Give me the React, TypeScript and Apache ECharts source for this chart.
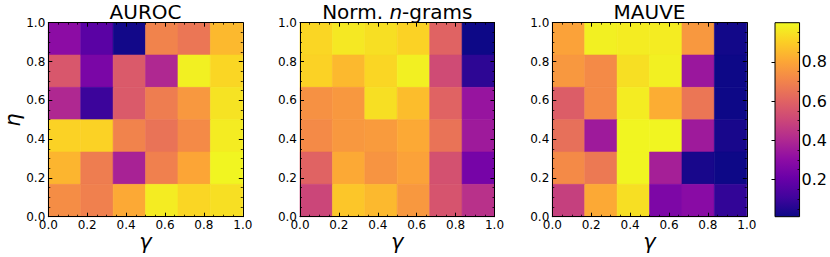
import React, { useEffect, useRef } from "react";
import * as echarts from "echarts";

// Bin edges of the 6x6 grids (gamma along x, eta along y)
const gammaEdges = [0.0, 0.1667, 0.3333, 0.5, 0.6667, 0.8333, 1.0];
const etaEdges = [0.0, 0.1667, 0.3333, 0.5, 0.6667, 0.8333, 1.0];

// Axis tick values
const axisTicks = [0.0, 0.2, 0.4, 0.6, 0.8, 1.0];
const colorbarTicks = [0.2, 0.4, 0.6, 0.8];
const colorbarMinorTicks = [0.05, 0.1, 0.15, 0.25, 0.3, 0.35, 0.45, 0.5, 0.55, 0.65, 0.7, 0.75, 0.85, 0.9, 0.95];
const colorMin = 0.01;
const colorMax = 1.0;

const panelTitles = ["AUROC", "Norm. n-grams", "MAUVE"];

// Rows listed from top (eta ≈ 1) to bottom (eta ≈ 0); columns gamma 0 → 1
const aurocRows = [
  [0.30, 0.17, 0.02, 0.70, 0.66, 0.85],
  [0.56, 0.25, 0.57, 0.40, 0.98, 0.92],
  [0.40, 0.10, 0.57, 0.68, 0.76, 0.95],
  [0.91, 0.91, 0.70, 0.65, 0.72, 0.97],
  [0.84, 0.68, 0.38, 0.69, 0.80, 0.99],
  [0.73, 0.69, 0.81, 0.97, 0.92, 0.94],
];

const ngramRows = [
  [0.92, 0.96, 0.94, 0.91, 0.60, 0.01],
  [0.91, 0.85, 0.92, 0.98, 0.52, 0.07],
  [0.74, 0.76, 0.94, 0.86, 0.60, 0.33],
  [0.72, 0.76, 0.77, 0.81, 0.65, 0.35],
  [0.60, 0.81, 0.75, 0.79, 0.54, 0.24],
  [0.50, 0.88, 0.85, 0.76, 0.55, 0.43],
];

const mauveRows = [
  [0.79, 0.98, 0.97, 0.97, 0.76, 0.02],
  [0.76, 0.72, 0.94, 0.98, 0.34, 0.01],
  [0.58, 0.72, 0.97, 0.82, 0.66, 0.01],
  [0.64, 0.35, 0.99, 0.99, 0.35, 0.03],
  [0.72, 0.67, 0.99, 0.37, 0.03, 0.00],
  [0.48, 0.81, 0.94, 0.26, 0.29, 0.08],
];

const plasma = [
  "#0d0887", "#41049d", "#6a00a8", "#8f0da4", "#b12a90", "#cc4778",
  "#e16462", "#f2844b", "#fca636", "#fcce25", "#f0f921",
];

const FONT = "DejaVu Sans";
const panelLefts = [48.3, 300, 552.3];
const panelWidth = 194.5;
const gridTop = 22.7;
const gridHeight = 194;
const cbLeft = 775;
const cbWidth = 26;

function toCells(rows: number[][]) {
  const out: number[][] = [];
  const n = rows.length;
  rows.forEach((row, r) => {
    const yi = n - 1 - r;
    row.forEach((v, c) => {
      out.push([gammaEdges[c], gammaEdges[c + 1], etaEdges[yi], etaEdges[yi + 1], v]);
    });
  });
  return out;
}

export default function App() {
  const ref = useRef<HTMLDivElement>(null);
  useEffect(() => {
    if (!ref.current) return;
    const chart = echarts.init(ref.current, undefined, { renderer: "svg" });

    const grids: any[] = panelLefts.map((l) => ({ left: l, top: gridTop, width: panelWidth, height: gridHeight }));
    grids.push({ left: cbLeft, top: gridTop, width: cbWidth, height: gridHeight });

    const lineStyle = { color: "#000", width: 1 };
    const baseAxis = (gridIndex: number) => ({
      type: "value",
      gridIndex,
      min: axisTicks[0],
      max: axisTicks[axisTicks.length - 1],
      interval: 0.2,
      z: 10,
      axisLine: { show: true, onZero: false, lineStyle },
      axisTick: { show: true, inside: true, length: 4, lineStyle },
      minorTick: { show: true, splitNumber: 4, length: 2, lineStyle: { color: "#000", width: 0.8 } },
      splitLine: { show: false },
      minorSplitLine: { show: false },
    });
    const labelStyle = (margin: number) => ({
      show: true,
      margin,
      fontSize: 12,
      color: "#000",
      fontFamily: FONT,
      showMinLabel: true,
      showMaxLabel: true,
      formatter: (v: number) => v.toFixed(1),
    });

    const xAxes: any[] = [];
    const yAxes: any[] = [];
    for (let i = 0; i < 3; i++) {
      xAxes.push({ ...baseAxis(i), position: "bottom", axisLabel: labelStyle(2) });
      xAxes.push({ ...baseAxis(i), position: "top", axisLabel: { show: false } });
      yAxes.push({ ...baseAxis(i), position: "left", axisLabel: labelStyle(3) });
      yAxes.push({ ...baseAxis(i), position: "right", axisLabel: { show: false } });
    }
    // colorbar axes
    xAxes.push({ type: "value", gridIndex: 3, min: 0, max: 1, show: false });
    yAxes.push({
      type: "value",
      gridIndex: 3,
      min: colorMin,
      max: colorMax,
      position: "right",
      z: 10,
      axisLine: { show: false },
      axisTick: { show: true, inside: true, length: 3.5, customValues: colorbarTicks, lineStyle },
      axisLabel: {
        show: true,
        margin: 2,
        fontSize: 16,
        color: "#000",
        fontFamily: FONT,
        customValues: colorbarTicks,
        formatter: (v: number) => v.toFixed(1),
      },
      splitLine: { show: false },
    });
    yAxes.push({
      type: "value",
      gridIndex: 3,
      min: colorMin,
      max: colorMax,
      position: "right",
      z: 10,
      axisLine: { show: false },
      axisTick: { show: true, inside: true, length: 2, customValues: colorbarMinorTicks, lineStyle: { color: "#000", width: 0.8 } },
      axisLabel: { show: false },
      splitLine: { show: false },
    });

    const cellRender = (params: any, api: any) => {
      const p0 = api.coord([api.value(0), api.value(3)]);
      const p1 = api.coord([api.value(1), api.value(2)]);
      const color = api.visual("color");
      return {
        type: "rect",
        shape: { x: p0[0], y: p0[1], width: p1[0] - p0[0], height: p1[1] - p0[1] },
        style: { fill: color, stroke: color, lineWidth: 0.6 },
      };
    };

    const datasets = [aurocRows, ngramRows, mauveRows];
    const series: any[] = datasets.map((rows, i) => ({
      type: "custom",
      xAxisIndex: 2 * i,
      yAxisIndex: 2 * i,
      z: 2,
      encode: { x: [0, 1], y: [2, 3] },
      data: toCells(rows),
      renderItem: cellRender,
    }));

    const stops = plasma.map((c, i) => ({ offset: i / (plasma.length - 1), color: c }));
    series.push({
      type: "custom",
      xAxisIndex: 6,
      yAxisIndex: 6,
      z: 2,
      encode: { x: [0, 1], y: [2, 3] },
      data: [[0, 1, colorMin, colorMax]],
      renderItem: (params: any, api: any) => {
        const p0 = api.coord([api.value(0), api.value(3)]);
        const p1 = api.coord([api.value(1), api.value(2)]);
        return {
          type: "rect",
          shape: { x: p0[0], y: p0[1], width: p1[0] - p0[0], height: p1[1] - p0[1] },
          style: {
            fill: new echarts.graphic.LinearGradient(0, 1, 0, 0, stops),
            stroke: "#000",
            lineWidth: 1,
          },
        };
      },
    });

    const graphics: any[] = [];
    panelLefts.forEach((l, i) => {
      const cx = l + panelWidth / 2;
      if (i === 1) {
        graphics.push({
          type: "text",
          x: cx,
          y: 11.5,
          style: {
            text: "{a|Norm. }{b|n}{a|-grams}",
            align: "center",
            verticalAlign: "middle",
            rich: {
              a: { fontSize: 20, fontFamily: FONT, fill: "#000" },
              b: { fontSize: 20, fontFamily: FONT, fontStyle: "italic", fill: "#000" },
            },
          },
        });
      } else {
        graphics.push({
          type: "text",
          x: cx,
          y: 11.5,
          style: { text: panelTitles[i], align: "center", verticalAlign: "middle", fontSize: 20, fontFamily: FONT, fill: "#000" },
        });
      }
      graphics.push({
        type: "text",
        x: cx,
        y: 242,
        style: { text: "γ", align: "center", verticalAlign: "middle", fontSize: 21, fontFamily: FONT, fontStyle: "italic", fill: "#000" },
      });
    });
    graphics.push({
      type: "text",
      x: 13,
      y: 120,
      rotation: Math.PI / 2,
      style: { text: "η", align: "center", verticalAlign: "middle", fontSize: 21, fontFamily: FONT, fontStyle: "italic", fill: "#000" },
    });

    chart.setOption({
      animation: false,
      backgroundColor: "#fff",
      grid: grids,
      xAxis: xAxes,
      yAxis: yAxes,
      visualMap: {
        type: "continuous",
        show: false,
        min: colorMin,
        max: colorMax,
        dimension: 4,
        seriesIndex: [0, 1, 2],
        inRange: { color: plasma },
      },
      series,
      graphic: graphics,
    });
    return () => chart.dispose();
  }, []);
  return <div ref={ref} style={{ position: "absolute", left: 0, top: 0, width: 830, height: 257 }} />;
}
